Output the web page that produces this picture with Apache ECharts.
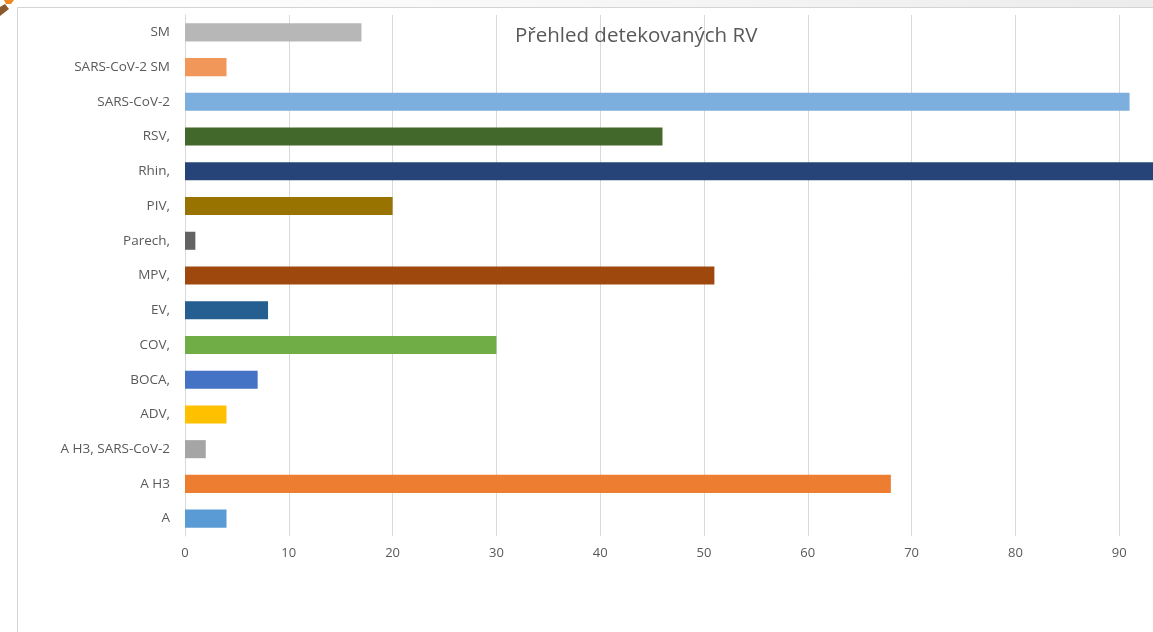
<!DOCTYPE html>
<html>
<head>
<meta charset="utf-8">
<script src="https://cdn.jsdelivr.net/npm/echarts@6/dist/echarts.min.js"></script>
<style>
  html, body { margin: 0; padding: 0; background: #ffffff; }
  #chart { width: 1153px; height: 632px; }
</style>
</head>
<body>
<div id="chart"></div>
<script>
// Detected respiratory viruses, listed bottom to top on the category axis
const categories = [
  'A', 'A H3', 'A H3, SARS-CoV-2', 'ADV,', 'BOCA,', 'COV,', 'EV,', 'MPV,',
  'Parech,', 'PIV,', 'Rhin,', 'RSV,', 'SARS-CoV-2', 'SARS-CoV-2 SM', 'SM'
];
const counts = [4, 68, 2, 4, 7, 30, 8, 51, 1, 20, 97, 46, 91, 4, 17];
const xTicks = [0, 10, 20, 30, 40, 50, 60, 70, 80, 90, 100];

// One fill per category (Office palette order)
const palette = [
  '#5B9BD5', '#ED7D31', '#A5A5A5', '#FFC000', '#4472C4', '#70AD47', '#255E91',
  '#9E480E', '#636363', '#997300', '#264478', '#43682B', '#7CAFDD', '#F1975A', '#B7B7B7'
];

const FONT = '"Open Sans", sans-serif';
const TEXT = '#595959';
const GRID = '#d9d9d9';

const chart = echarts.init(document.getElementById('chart'), null, { renderer: 'canvas' });

chart.setOption({
  animation: false,
  backgroundColor: '#ffffff',
  title: {
    text: 'Přehled detekovaných RV',
    left: 510,
    top: 21,
    textStyle: { fontFamily: FONT, fontSize: 20.5, fontWeight: 'normal', color: TEXT }
  },
  // plot runs past the right edge of the page, so the 100 line sits off-screen
  grid: {
    left: 185, top: 15, width: 1038, height: 521,
    containLabel: false, outerBoundsMode: 'none'
  },
  xAxis: {
    type: 'value',
    min: xTicks[0],
    max: xTicks[xTicks.length - 1],
    interval: xTicks[1] - xTicks[0],
    axisLine: { show: false },
    axisTick: { show: false },
    splitLine: { show: true, lineStyle: { color: GRID, width: 1 } },
    axisLabel: { margin: 11, fontFamily: FONT, fontSize: 13, color: TEXT }
  },
  yAxis: {
    type: 'category',
    data: categories,
    axisLine: { show: true, lineStyle: { color: GRID, width: 1 } },
    axisTick: { show: false },
    axisLabel: { margin: 15, fontFamily: FONT, fontSize: 13.5, color: TEXT }
  },
  series: [{
    type: 'bar',
    barCategoryGap: '48%',
    data: counts.map((v, i) => ({ value: v, itemStyle: { color: palette[i] } }))
  }],
  graphic: [
    {
      type: 'rect',
      silent: true,
      shape: { x: 0, y: 0, width: 1153, height: 7 },
      style: {
        fill: new echarts.graphic.LinearGradient(0, 0, 1, 0, [
          { offset: 0, color: '#ffffff' },
          { offset: 0.35, color: '#fafafa' },
          { offset: 1, color: '#ececec' }
        ])
      },
      z: 100
    },
    {
      type: 'rect',
      silent: true,
      shape: { x: 17.5, y: 7.5, width: 1200, height: 700 },
      style: { fill: 'none', stroke: '#d4d4d4', lineWidth: 1 },
      z: 100
    },
    {
      type: 'polygon',
      silent: true,
      shape: { points: [[4, 0], [14, 0], [11, 4], [6, 4]] },
      style: { fill: '#f0881f' },
      z: 100
    },
    {
      type: 'polygon',
      silent: true,
      shape: { points: [[0, 7], [5, 4], [9, 9], [0, 16]] },
      style: { fill: '#8a5a2e' },
      z: 100
    }
  ]
});
</script>
</body>
</html>
